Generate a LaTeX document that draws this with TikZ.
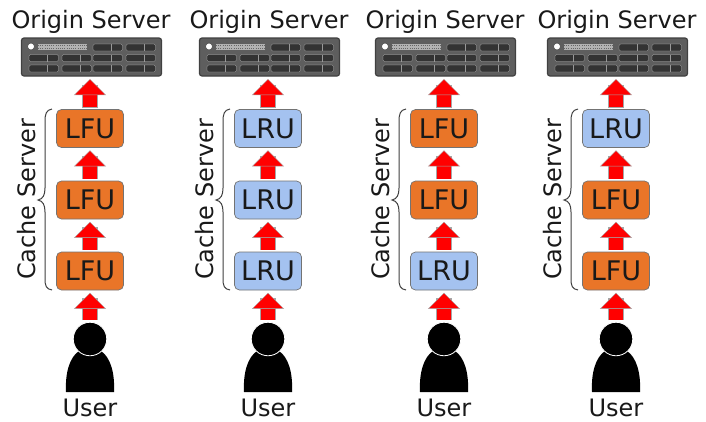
\documentclass[tikz,border=0pt]{standalone}
\usepackage{fontspec}
\setmainfont{DejaVu Sans}
\usetikzlibrary{arrows.meta}
\definecolor{lfu}{HTML}{E97528}
\definecolor{lru}{HTML}{A4C2F0}
\definecolor{rackbg}{HTML}{5E5E5E}
\definecolor{rackfg}{HTML}{333333}
\tikzset{
  x=1pt,y=-1pt,
  cachebox/.style={draw=black!55,line width=0.7pt,rounded corners=5pt,minimum width=67pt,minimum height=38pt,inner sep=0pt,font=\fontsize{27}{27}\selectfont,text=black!90},
  lfubox/.style={cachebox,fill=lfu},
  lrubox/.style={cachebox,fill=lru},
  rack/.style={draw=black!75,fill=rackbg,line width=1.2pt,rounded corners=2.5pt,minimum width=140pt,minimum height=38pt,inner sep=0pt},
  slot/.style={fill=rackfg,draw=black!25,line width=0.3pt,rounded corners=1.5pt},
  flow/.style={line width=14.5pt,red,-{Triangle[length=16pt,width=32pt,color=black!35,fill=red,line width=0.4pt]},shorten >=2.5pt,shorten <=2pt,
    preaction={draw=black!35,line width=15.2pt,-,shorten >=8pt,shorten <=1.6pt}},
  label/.style={font=\fontsize{24}{24}\selectfont,text=black!90,inner sep=0pt},
  userhead/.style={circle,fill=black,draw=white,line width=0.8pt,minimum size=33.5pt,inner sep=0pt},
  bracecurve/.style={draw=black!75,line width=1pt},
}
\begin{document}
\begin{tikzpicture}
\useasboundingbox (0,0) rectangle (706,421);
\fill[white] (0,0) rectangle (706,421);
\foreach \c/\cx/\ta/\tb/\tc in {a/90/lfu/lfu/lfu,b/268/lru/lru/lru,c/444/lfu/lfu/lru,d/616/lru/lfu/lfu}{
  \begin{scope}[shift={(\cx,0)}]
    \node[label] (\c title) at (1,22) {Origin Server};
    \node[rack] (\c server) at (1.5,57) {};
    % rack details
    \fill[white,draw=black!70,line width=0.6pt] (-59,46.5) circle (3.5pt);
    \fill[black!30] (-52,44) rectangle (-3,50);
    \foreach \ry in {45.5,48.5}{
      \draw[black!60,line width=0.9pt,dash pattern=on 1pt off 1.2pt] (-52,\ry) -- (-3,\ry);
    }
    \foreach \sx in {3,36}{
      \fill[slot] (\sx,44) rectangle ++(29.5,7);
      \draw[black!40,line width=0.3pt] (\sx+18,44) -- ++(0,7);
    }
    \foreach \sy in {54.5,65}{
      \foreach \sx in {-61,-28,3,36}{
        \fill[slot] (\sx,\sy) rectangle ++(29.5,7);
        \draw[black!40,line width=0.3pt] (\sx+18,\sy) -- ++(0,7);
      }
    }
    \node[\ta box] (\c one)   at (0,128.5) {\MakeUppercase{\ta}};
    \node[\tb box] (\c two)   at (0,200)   {\MakeUppercase{\tb}};
    \node[\tc box] (\c three) at (0,271)   {\MakeUppercase{\tc}};
    \fill[black] (-24,392) .. controls (-25,372) and (-20,357) .. (-11,351)
       -- (11,351)
       .. controls (20,357) and (25,372) .. (24,392) -- cycle;
    \node[userhead] (\c head) at (0,339) {};
    \node[label] (\c user) at (0,408) {User};
    \draw[bracecurve] (-38,109) .. controls (-44,110) and (-45,114) .. (-45,122)
       -- (-45,188) .. controls (-45,195) and (-47,199) .. (-52,200)
       .. controls (-47,201) and (-45,205) .. (-45,212)
       -- (-45,278) .. controls (-45,286) and (-44,289) .. (-38,290);
    \node[label,rotate=90] (\c cache) at (-63,199.5) {Cache Server};
    \draw[flow] (\c head.north) -- (\c three.south);
    \draw[flow] (\c three.north) -- (\c two.south);
    \draw[flow] (\c two.north) -- (\c one.south);
    \draw[flow] (\c one.north) -- (\c server.south -| \c one.north);
  \end{scope}
}
\end{tikzpicture}
\end{document}
